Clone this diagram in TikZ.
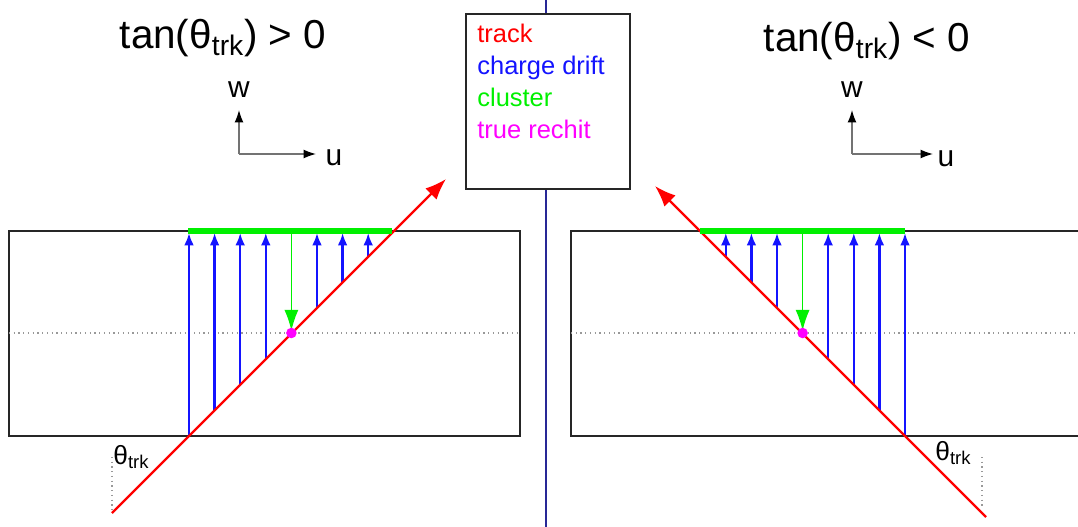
\documentclass[tikz,border=0pt]{standalone}
\usepackage{fontspec}
\setmainfont{Liberation Sans}
\usetikzlibrary{arrows.meta}
\definecolor{trkred}{RGB}{255,0,0}
\definecolor{driftblue}{RGB}{20,20,255}
\definecolor{clugreen}{RGB}{0,240,0}
\definecolor{hitpink}{RGB}{255,0,255}
\definecolor{divblue}{RGB}{40,40,150}
\tikzset{
  detector/.style={draw=black!85, line width=1.3pt},
  trackline/.style={trkred, line width=1.3pt, -{Latex[length=12pt,width=9pt]}},
  drift/.style={driftblue, line width=1.3pt, -{Latex[length=7pt,width=5.5pt]}},
  clusterbar/.style={clugreen, line width=3.2pt},
  clusterarrow/.style={clugreen, line width=1pt, -{Latex[length=12pt,width=8pt]}},
  midplane/.style={black!40, dotted, line width=0.7pt},
  axis/.style={black!55, line width=0.7pt, -{Latex[length=7pt,width=5pt,color=black]}},
  title/.style={font=\fontsize{23}{27}\selectfont, anchor=base},
  axislabel/.style={font=\fontsize{17}{20}\selectfont, anchor=base},
  anglelabel/.style={font=\fontsize{15}{18}\selectfont, anchor=base west, inner sep=0pt},
  legendtext/.style={font=\fontsize{14.5}{18}\selectfont, anchor=base west, inner sep=0pt},
}
\newcommand{\thetatrk}{θ\textsubscript{trk}}

\begin{document}
\begin{tikzpicture}[x=0.02cm, y=-0.02cm]
    \useasboundingbox (0,0) rectangle (1078,527);
    % divider and legend
    \draw[divblue, line width=1pt] (546,0) -- (546,527);
    \node[draw=black!85, line width=1.3pt, fill=white, inner sep=0pt, anchor=north west,
          minimum width=3.28cm, minimum height=3.5cm] (legend) at (465,13) {};
    \node[legendtext, text=trkred]    (lgtrack)   at (477,43)  {track};
    \node[legendtext, text=driftblue] (lgdrift)   at (477,75)  {charge drift};
    \node[legendtext, text=clugreen]  (lgcluster) at (477,107) {cluster};
    \node[legendtext, text=hitpink]   (lgrechit)  at (477,138) {true rechit};

    % left: tan > 0
    \node[title] (titleL) at (223,49) {tan(\thetatrk) > 0};
    \coordinate (oL) at (239,154);
    \draw[axis] (oL) -- (239,110);
    \draw[axis] (oL) -- (316,154);
    \node[axislabel] (wL) at (239,98)  {w};
    \node[axislabel] (uL) at (334,165) {u};
    \draw[detector] (9,231) rectangle (520,436);
    \draw[midplane] (9,333) -- (520,333);
    \foreach \k in {0,1,2,3,5,6,7}
      \draw[drift] (189+25.6*\k, 436-25.6*\k) -- (189+25.6*\k, 233);
    \coordinate (trkLin)  at (112,513);
    \coordinate (trkLout) at (446,179);
    \draw[trackline] (trkLin) -- (trkLout);
    \draw[clusterbar] (188,231) -- (392,231);
    \draw[clusterarrow] (291.4,231) -- (291.4,331);
    \fill[hitpink] (291.4,333) circle (3pt);
    \draw[midplane] (112,457) -- (trkLin);
    \node[anglelabel] (angL) at (113,464) {\thetatrk};

    % right: tan < 0
    \node[title] (titleR) at (867,52) {tan(\thetatrk) < 0};
    \coordinate (oR) at (852,154);
    \draw[axis] (oR) -- (852,110);
    \draw[axis] (oR) -- (933,154);
    \node[axislabel] (wR) at (852,97)  {w};
    \node[axislabel] (uR) at (946,166) {u};
    \draw[detector] (1080,231) -- (571,231) -- (571,436) -- (1080,436);
    \draw[midplane] (571,333) -- (1078,333);
    \foreach \k in {0,1,2,3,5,6,7}
      \draw[drift] (905-25.6*\k, 436-25.6*\k) -- (905-25.6*\k, 233);
    \coordinate (trkRin)  at (986,517);
    \coordinate (trkRout) at (655,186);
    \draw[trackline] (trkRin) -- (trkRout);
    \draw[clusterbar] (700,231) -- (905,231);
    \draw[clusterarrow] (802.6,231) -- (802.6,331);
    \fill[hitpink] (802.6,333) circle (3pt);
    \draw[midplane] (982,457) -- (982,508);
    \node[anglelabel] (angR) at (935,460) {\thetatrk};
  \end{tikzpicture}
\end{document}
